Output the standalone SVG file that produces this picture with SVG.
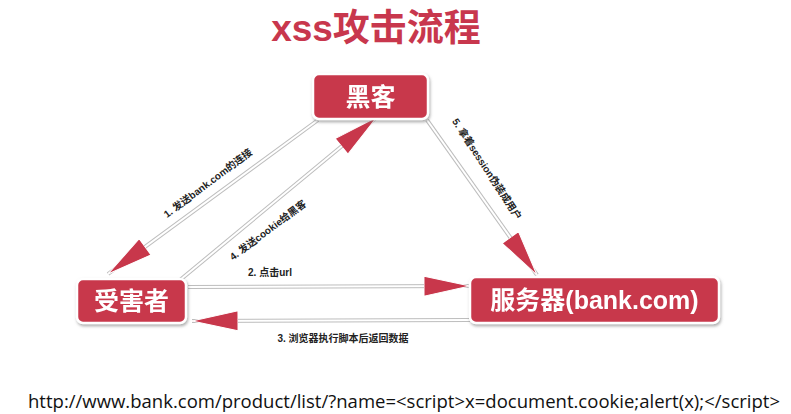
<svg xmlns="http://www.w3.org/2000/svg" width="791" height="414" viewBox="0 0 791 414">
<style>
.title{font-family:"Liberation Sans","Noto Sans CJK SC",sans-serif;font-weight:bold;font-size:37px;fill:#c8374d}
.box{fill:#c8374b;stroke:#fff;stroke-width:2.5}
.nt{font-family:"Liberation Sans","Noto Sans CJK SC",sans-serif;font-weight:bold;font-size:25px;fill:#fff}
.lbl{font-family:"Liberation Sans","Noto Sans CJK SC",sans-serif;font-weight:bold;font-size:10px;fill:#222}
.eo{fill:none;stroke:#bdbdbd;stroke-width:4}
.ei{fill:none;stroke:#fff;stroke-width:2}
.url{font-family:"Open Sans","Noto Sans",sans-serif;font-size:18px;fill:#111}
</style>
<defs>
<filter id="sh" x="-10%" y="-20%" width="120%" height="150%">
<feDropShadow dx="1" dy="2" stdDeviation="1.5" flood-color="#777" flood-opacity="0.6"/>
</filter>
<marker id="ah" viewBox="0 0 46 20" refX="46" refY="10" markerWidth="46" markerHeight="20" markerUnits="userSpaceOnUse" orient="auto">
<path d="M0,0 L46,10 L0,20 z" fill="#c8374b" stroke="#fff" stroke-width="1"/>
</marker>
</defs>
<rect width="791" height="414" fill="#fff"/>
<text class="title" x="376" y="41" text-anchor="middle">xss攻击流程</text>
<g id="connectors">
<line class="eo" x1="318" y1="120" x2="108" y2="274"/>
<line class="ei" x1="318" y1="120" x2="108" y2="274" marker-end="url(#ah)"/>
<line class="eo" x1="180" y1="280" x2="377" y2="117"/>
<line class="ei" x1="180" y1="280" x2="377" y2="117" marker-end="url(#ah)"/>
<line class="eo" x1="427" y1="120" x2="537" y2="275"/>
<line class="ei" x1="427" y1="120" x2="537" y2="275" marker-end="url(#ah)"/>
<line class="eo" x1="188" y1="287" x2="470" y2="286"/>
<line class="ei" x1="188" y1="287" x2="470" y2="286" marker-end="url(#ah)"/>
<line class="eo" x1="470" y1="320" x2="192" y2="321"/>
<line class="ei" x1="470" y1="320" x2="192" y2="321" marker-end="url(#ah)"/>
<text class="lbl" text-anchor="middle" transform="translate(210,186) rotate(-36.9)">1. 发送bank.com的连接</text>
<text class="lbl" text-anchor="middle" transform="translate(270,233) rotate(-36.9)">4. 发送cookie给黑客</text>
<text class="lbl" text-anchor="middle" transform="translate(484,171) rotate(57)">5. 拿着session伪装成用户</text>
<text class="lbl" x="270" y="276" text-anchor="middle">2. 点击url</text>
<text class="lbl" x="343" y="342" text-anchor="middle" font-size="10.5">3. 浏览器执行脚本后返回数据</text>
</g>
<g id="hacker" filter="url(#sh)">
<rect class="box" x="313" y="74" width="115" height="45" rx="6"/>
<text class="nt" x="370.5" y="106" text-anchor="middle">黑客</text>
</g>
<g id="victim" filter="url(#sh)">
<rect class="box" x="77" y="279" width="109" height="44" rx="6"/>
<text class="nt" x="131.5" y="310" text-anchor="middle">受害者</text>
</g>
<g id="server" filter="url(#sh)">
<rect class="box" x="470" y="277" width="249" height="46" rx="6"/>
<text class="nt" x="594.5" y="309" text-anchor="middle">服务器(bank.com)</text>
</g>
<text class="url" x="28" y="408" textLength="752" lengthAdjust="spacingAndGlyphs">http://www.bank.com/product/list/?name=&lt;script&gt;x=document.cookie;alert(x);&lt;/script&gt;</text>
</svg>
